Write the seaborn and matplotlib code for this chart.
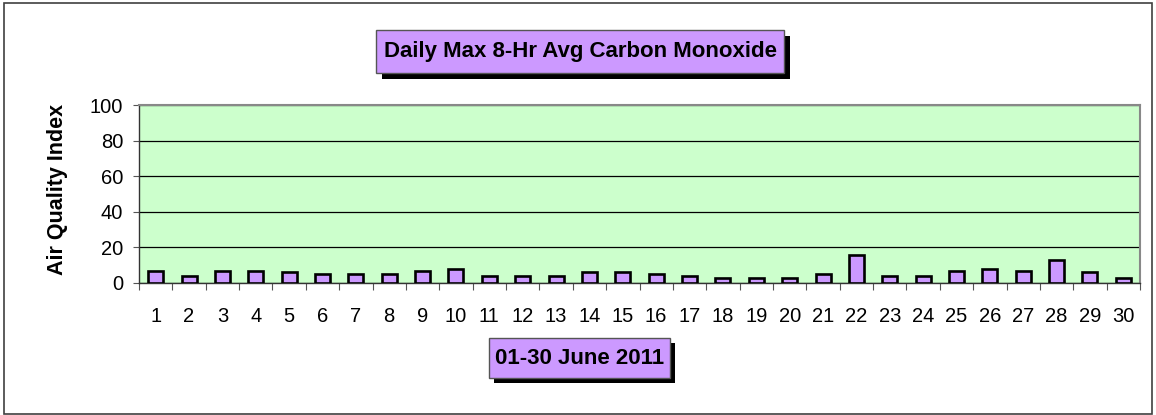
import matplotlib
matplotlib.use("Agg")
import matplotlib.pyplot as plt
from matplotlib.patches import Rectangle
from matplotlib.ticker import FixedLocator, NullFormatter
import seaborn as sns
import pandas as pd

days = [str(d) for d in range(1, 31)]
aqi = [7, 4, 7, 7, 6, 5, 5, 5, 7, 8,
       4, 4, 4, 6, 6, 5, 4, 3, 3, 3,
       5, 16, 4, 4, 7, 8, 7, 13, 6, 3]
y_ticks = [0, 20, 40, 60, 80, 100]
title_text = "Daily Max 8-Hr Avg Carbon Monoxide"
xlabel_text = "01-30 June 2011"
ylabel_text = "Air Quality Index"

sns.set_theme(style="white")
plt.rcParams['font.family'] = ['Liberation Sans', 'DejaVu Sans']

W, H = 1156, 415
fig = plt.figure(figsize=(W / 100, H / 100), dpi=100)

def fx(px):
    return px / W

def fy(py):
    return 1 - py / H

# outer border
fig.patches.append(Rectangle((fx(4), fy(414)), fx(1152) - fx(4), fy(3) - fy(414),
                             transform=fig.transFigure, fill=False,
                             edgecolor="#404040", linewidth=1.2))

L, R, T, B = 139, 1140, 105, 283
ax = fig.add_axes([fx(L), fy(B), fx(R) - fx(L), fy(T) - fy(B)])
ax.set_facecolor("#CCFFCC")

df = pd.DataFrame({"day": days, "aqi": aqi})
sns.barplot(data=df, x="day", y="aqi", ax=ax, color="#CC99FF", saturation=1,
            edgecolor="black", linewidth=1.9, width=0.45, zorder=3)

ax.set_ylim(0, 100)
ax.set_xlim(-0.5, len(days) - 0.5)
ax.set_yticks(y_ticks)
ax.yaxis.grid(True, color="black", linewidth=0.9, zorder=1)
ax.set_axisbelow(True)
ax.tick_params(axis="y", direction="out", length=4.5, width=0.8, color="#555555",
               labelsize=14.5, pad=7, left=True)
ax.tick_params(axis="x", which="major", length=0, labelsize=14.5, pad=17)
ax.xaxis.set_minor_locator(FixedLocator([i - 0.5 for i in range(len(days) + 1)]))
ax.xaxis.set_minor_formatter(NullFormatter())
ax.tick_params(axis="x", which="minor", direction="out", length=5, width=0.8,
               color="#555555", bottom=True)
for lab in ax.get_xticklabels() + ax.get_yticklabels():
    lab.set_color("black")
ax.set_xlabel("")
ax.set_ylabel("")
for side in ["left", "bottom"]:
    ax.spines[side].set_color("#333333")
    ax.spines[side].set_linewidth(1.0)
for side in ["top", "right"]:
    ax.spines[side].set_color("#888888")
    ax.spines[side].set_linewidth(1.5)

def label_box(x0, y0, x1, y1, text, off=6, size=16):
    fig.patches.append(Rectangle((fx(x0 + off), fy(y1 + off)), fx(x1) - fx(x0), fy(y0) - fy(y1),
                                 transform=fig.transFigure, facecolor="black",
                                 edgecolor="black", linewidth=0, zorder=5))
    fig.patches.append(Rectangle((fx(x0), fy(y1)), fx(x1) - fx(x0), fy(y0) - fy(y1),
                                 transform=fig.transFigure, facecolor="#CC99FF",
                                 edgecolor="#555555", linewidth=1.0, zorder=6))
    fig.text(fx((x0 + x1) / 2), fy((y0 + y1) / 2), text, ha="center", va="center",
             fontsize=size, fontweight="bold", color="black", zorder=7)

label_box(376, 30, 784, 73, title_text, off=6, size=16)
label_box(489, 338, 670, 378, xlabel_text, off=5, size=16)

fig.text(fx(58), fy(189), ylabel_text, rotation=90, ha="center", va="center",
         fontsize=15.5, fontweight="bold", color="black")

fig.savefig("out.png", dpi=100)
